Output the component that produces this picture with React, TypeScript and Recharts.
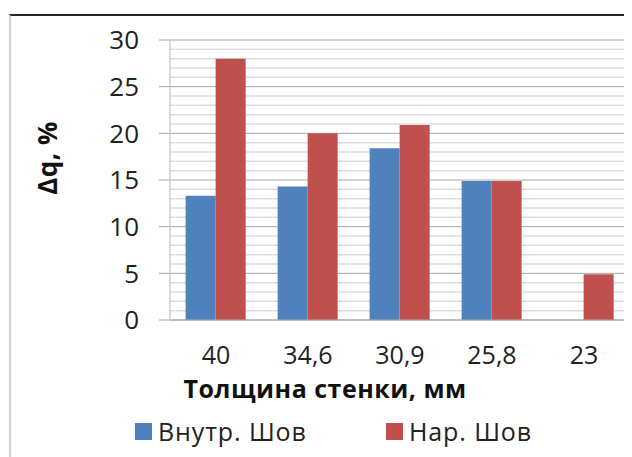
import React from "react";
import { BarChart, Bar, XAxis, YAxis, CartesianGrid } from "recharts";

// Wall thickness, mm (category labels use a decimal comma)
const thickness = ["40", "34,6", "30,9", "25,8", "23"];
// Δq, % for the inner and outer weld seam
const innerSeam = [13.3, 14.3, 18.4, 14.9, null];
const outerSeam = [28, 20, 20.9, 14.9, 4.9];

const yTicks = [0, 5, 10, 15, 20, 25, 30];
const minorLines = [1, 2, 3, 4, 6, 7, 8, 9, 11, 12, 13, 14, 16, 17, 18, 19, 21, 22, 23, 24, 26, 27, 28, 29];

const BLUE = "#4F81BD";
const RED = "#C0504D";
const series = [
  { key: "inner", name: "Внутр. Шов", color: BLUE },
  { key: "outer", name: "Нар. Шов", color: RED },
];
const FONT = "'Open Sans', 'Noto Sans', sans-serif";

const data = thickness.map((t, i) => ({
  thickness: t,
  inner: innerSeam[i],
  outer: outerSeam[i],
}));

function SeriesLegend() {
  return (
    <div
      style={{
        position: "absolute",
        top: 406,
        left: 127,
        display: "flex",
        fontFamily: FONT,
        fontSize: 25,
        letterSpacing: 0.9,
        color: "#222",
      }}
    >
      {series.map((s, i) => (
        <div key={s.key} style={{ display: "flex", alignItems: "center", width: i === 0 ? 251 : "auto" }}>
          <span style={{ width: 17, height: 17, background: s.color, marginRight: 6, display: "inline-block" }} />
          <span>{s.name}</span>
        </div>
      ))}
    </div>
  );
}

export default function App() {
  return (
    <div style={{ position: "relative", width: 624, height: 449, background: "#fff" }}>
      <div
        style={{
          position: "absolute",
          left: 1,
          top: 6,
          width: 623,
          height: 443,
          borderTop: "2px solid #262626",
          borderLeft: "2px solid #d0d0d0",
          boxSizing: "border-box",
        }}
      />
      <div style={{ position: "absolute", left: 0, top: 0 }}>
        <BarChart
          width={624}
          height={449}
          data={data}
          margin={{ top: 32, right: 2, bottom: 107, left: 0 }}
          barCategoryGap="17%"
          barGap={0}
        >
          <CartesianGrid vertical={false} horizontalValues={minorLines} stroke="#dcdcdc" strokeWidth={1.5} />
          <CartesianGrid vertical={false} horizontalValues={yTicks} stroke="#a8a8a8" />
          <XAxis
            dataKey="thickness"
            height={30}
            axisLine={{ stroke: "#a8a8a8" }}
            tickLine={false}
            tickSize={0}
            tickMargin={26}
            tick={{ fill: "#222", fontSize: 25, fontFamily: FONT }}
            interval={0}
            label={() => (
              <text
                x={317}
                y={380}
                textAnchor="middle"
                dominantBaseline="central"
                fontFamily={FONT}
                fontSize={25}
                letterSpacing={0.5}
                fontWeight="bold"
                fill="#111"
              >
                Толщина стенки, мм
              </text>
            )}
          />
          <YAxis
            width={162}
            domain={[0, 30]}
            ticks={yTicks}
            interval={0}
            axisLine={{ stroke: "#cfcfcf", strokeWidth: 1.5 }}
            tickLine={{ stroke: "#a8a8a8" }}
            tickSize={11}
            tickMargin={20}
            tick={{ fill: "#222", fontSize: 26, fontFamily: FONT }}
            label={() => (
              <text
                x={39}
                y={150}
                transform="rotate(-90 39 150)"
                textAnchor="middle"
                dominantBaseline="central"
                fontFamily={FONT}
                fontSize={26}
                letterSpacing={0.5}
                fontWeight="bold"
                fill="#111"
              >
                Δq, %
              </text>
            )}
          />
          {series.map((s) => (
            <Bar key={s.key} dataKey={s.key} name={s.name} fill={s.color} isAnimationActive={false} />
          ))}
        </BarChart>
      </div>
      <SeriesLegend />
    </div>
  );
}
